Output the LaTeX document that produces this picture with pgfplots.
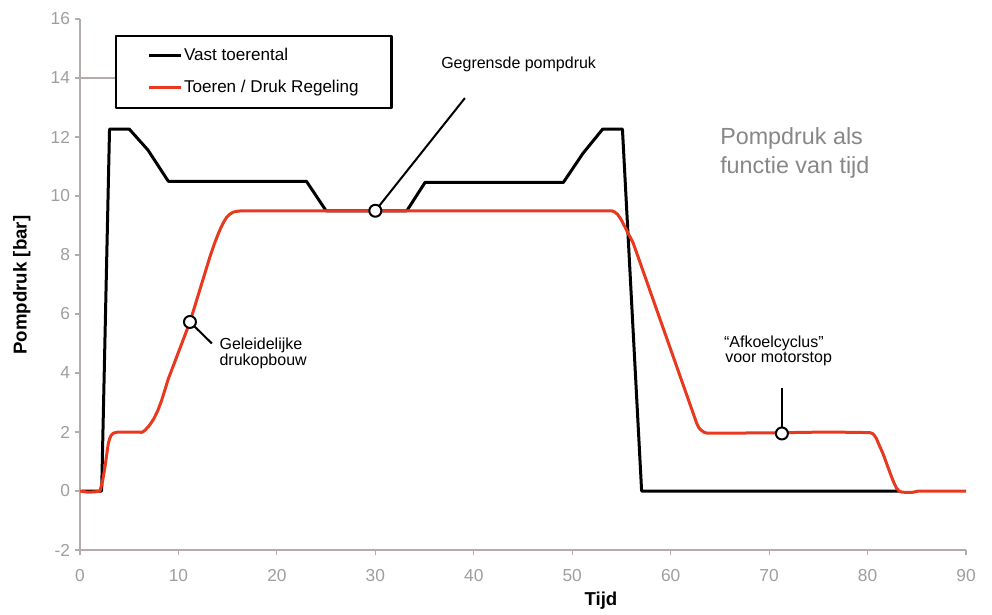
\documentclass[border=0pt]{standalone}
\usepackage{fontspec}
\setmainfont{Liberation Sans}
\usepackage{pgfplots}
\pgfplotsset{compat=1.18}

\definecolor{axisgray}{RGB}{180,172,170}
\definecolor{tickgray}{RGB}{158,158,158}
\definecolor{curvered}{RGB}{232,56,30}
\definecolor{notegray}{RGB}{135,135,135}

\begin{document}
\begin{tikzpicture}[x=1pt,y=1pt]
\begin{axis}[
  at={(0,0)}, anchor=south west,
  width=664.5pt, height=398.25pt, scale only axis,
  xmin=0, xmax=90, ymin=-2, ymax=16,
  axis x line=bottom, axis y line=left,
  axis line style={-, axisgray, line width=0.8pt},
  xtick={0,10,...,90}, ytick={-2,0,...,16},
  tick align=outside, major tick length=4pt,
  tick style={axisgray, line width=0.8pt},
  ticklabel style={font=\fontsize{13}{15}\selectfont, text=tickgray},
  xticklabel style={yshift=-7pt},
  /pgf/number format/assume math mode=true,
  xlabel={Tijd}, ylabel={Pompdruk [bar]},
  label style={font=\fontsize{14}{16}\selectfont\bfseries},
  xlabel style={at={(axis description cs:0.588,-0.096)}, anchor=center},
  ylabel style={at={(axis description cs:-0.0658,0.499)}, anchor=center},
  legend style={at={(axis cs:3.56,15.46)}, anchor=north west,
    draw=black, line width=1.6pt, fill=white,
    font=\fontsize{12.8}{15}\selectfont,
    inner xsep=23.5pt, inner ysep=8.6pt, row sep=11.8pt,
    nodes={inner xsep=1.2pt, inner ysep=0pt, text height=9.6pt, text depth=2.8pt}},
  legend cell align=left,
  legend image code/.code={\draw[#1] (0pt,0pt) -- (24pt,0pt);},
  line join=round,
]

% gridline stub at 14, visible left of the legend
\addplot[axisgray, line width=0.8pt, forget plot] coordinates {(0,14) (3.56,14)};

% Vast toerental
\addplot[black, line width=2.25pt] coordinates {
  (0.2,0) (2.2,0) (3.0,12.27) (5.0,12.27) (6.9,11.56) (8.97,10.5)
  (23.0,10.5) (25.0,9.5) (33.2,9.5) (35.05,10.46) (49.1,10.46)
  (51.1,11.45) (53.1,12.27) (55.1,12.27) (57.05,0) (83.2,0)
};
\addlegendentry{Vast toerental}

% Toeren / Druk Regeling
\addplot[curvered, line width=2.25pt] coordinates {
  (0,0) (0.8,-0.04) (1.5,-0.03) (2.03,0) (2.3,0.35) (2.54,0.82)
  (2.72,1.25) (2.88,1.62) (3.02,1.78) (3.15,1.88) (3.39,1.96)
  (3.7,1.99) (4,2.0) (5.5,2.0) (6.27,1.99) (6.45,2.02) (6.6,2.06)
  (6.94,2.18) (7.25,2.32) (7.5,2.45) (7.9,2.72) (8.3,3.08) (8.97,3.8)
  (11.17,5.73) (13.2,7.94) (13.65,8.38) (14,8.68) (14.3,8.92)
  (14.6,9.12) (14.9,9.28) (15.2,9.38) (15.55,9.45) (15.9,9.48) (16.5,9.5)
  (54,9.5) (54.3,9.46) (54.6,9.38) (54.9,9.24) (55.2,9.05) (56.2,8.4)
  (62.65,2.29) (62.85,2.15) (63.1,2.06) (63.4,1.99) (63.7,1.96)
  (70,1.97) (76,2.0) (80.2,1.98) (80.5,1.95) (80.7,1.88) (80.9,1.78)
  (81.1,1.62) (81.6,1.24) (82.3,0.6) (82.65,0.3) (82.95,0.09)
  (83.2,0) (83.5,-0.04) (84.5,-0.05) (85.2,0) (90,0)
};
\addlegendentry{Toeren / Druk Regeling}

% annotation leaders
\addplot[black, line width=1.5pt, forget plot] coordinates {(30,9.5) (39.1,13.32)};
\addplot[black, line width=1.5pt, forget plot] coordinates {(11.17,5.73) (13.4,5.0)};
\addplot[black, line width=1.5pt, forget plot] coordinates {(71.3,1.95) (71.3,3.49)};
\addplot[only marks, mark=*, mark size=4.5pt, forget plot,
  mark options={fill=white, draw=black, line width=1.5pt}]
  coordinates {(30,9.5) (11.17,5.73) (71.3,1.95)};

\node[anchor=base west, inner sep=0, font=\fontsize{12}{14}\selectfont]
  at (axis cs:36.67,14.33) {Gegrensde pompdruk};
\node[anchor=base west, inner sep=0, font=\fontsize{12}{14}\selectfont]
  at (axis cs:14.15,4.78) {Geleidelijke};
\node[anchor=base west, inner sep=0, font=\fontsize{12}{14}\selectfont]
  at (axis cs:14.15,4.24) {drukopbouw};
\node[anchor=base west, inner sep=0, font=\fontsize{12}{14}\selectfont]
  at (axis cs:65.4,4.88) {“Afkoelcyclus”};
\node[anchor=base west, inner sep=0, font=\fontsize{12}{14}\selectfont]
  at (axis cs:65.52,4.35) {voor motorstop};
\node[anchor=base west, inner sep=0, text=notegray, font=\fontsize{17.5}{21}\selectfont]
  at (axis cs:65.01,11.73) {Pompdruk als};
\node[anchor=base west, inner sep=0, text=notegray, font=\fontsize{17.5}{21}\selectfont]
  at (axis cs:65.01,10.77) {functie van tijd};
\end{axis}
\path (-60pt,-45.75pt) rectangle (684pt,412.5pt);
\end{tikzpicture}
\end{document}
